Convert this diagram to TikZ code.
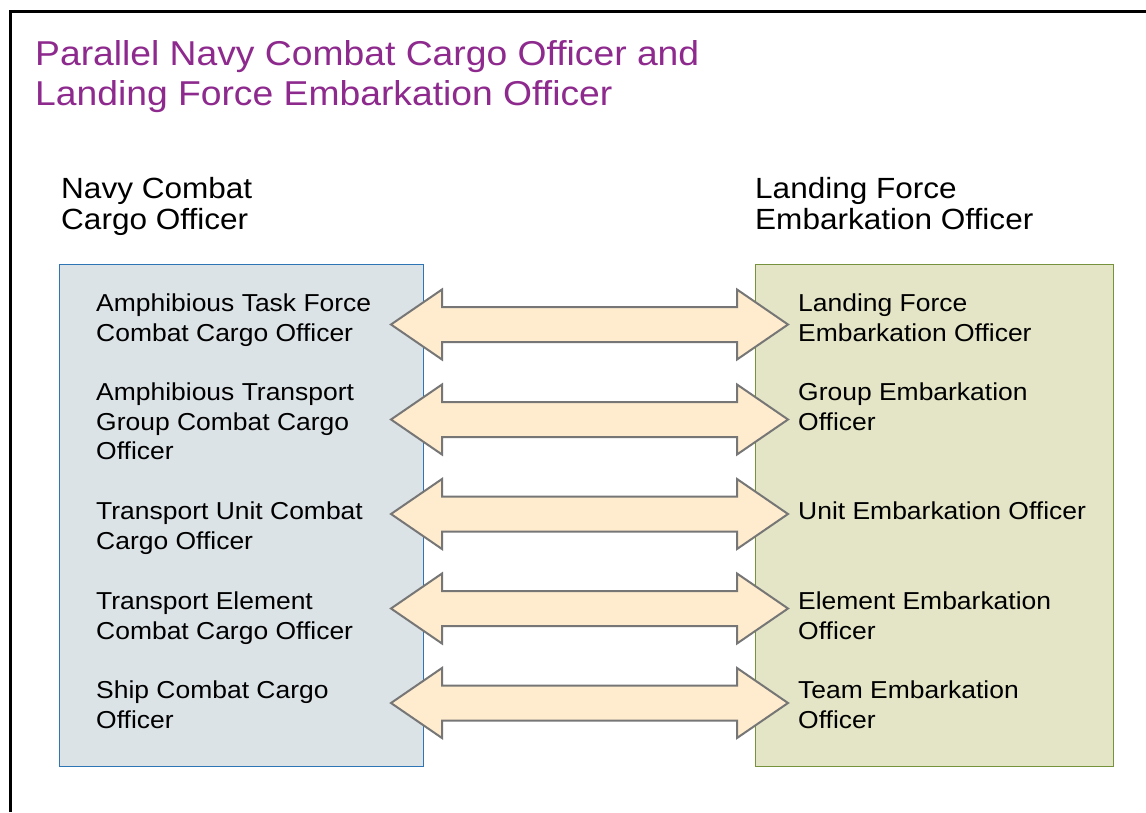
\documentclass[tikz,border=0pt]{standalone}
\usepackage{fontspec}
\setmainfont{Liberation Sans}[FakeStretch=1.08]
\definecolor{titlepurple}{RGB}{142,42,142}
\definecolor{navyfill}{RGB}{220,227,231}
\definecolor{navyline}{RGB}{46,117,182}
\definecolor{lffill}{RGB}{228,228,198}
\definecolor{lfline}{RGB}{118,146,60}
\definecolor{arrowfill}{RGB}{255,236,206}
\definecolor{arrowline}{RGB}{118,118,118}
\begin{document}
\begin{tikzpicture}[x=1pt,y=-1pt,
  titletext/.style={anchor=base west, inner sep=0, align=left, text=titlepurple, font=\fontsize{34.5}{39.5}\selectfont},
  headtext/.style={anchor=base west, inner sep=0, align=left, font=\fontsize{29.2}{31.5}\selectfont},
  itemtext/.style={anchor=base west, inner sep=0, align=left, font=\fontsize{24.5}{29.5}\selectfont},
  navybox/.style={draw=navyline, fill=navyfill, line width=1pt, anchor=north west, inner sep=0, minimum width=364pt, minimum height=502pt},
  lfbox/.style={draw=lfline, fill=lffill, line width=1pt, anchor=north west, inner sep=0, minimum width=358pt, minimum height=502pt},
  bigarrow/.style={draw=arrowline, fill=arrowfill, line width=2pt, line join=miter}
]
\useasboundingbox (0,0) rectangle (1146,812);
\fill[white] (0,0) rectangle (1146,812);
\draw[line width=3pt] (10.5,812) -- (10.5,11.5) -- (1146,11.5);

% anchors are at the baseline of the last line of each block
\node[titletext] (title) at (35,105) {Parallel Navy Combat Cargo Officer and\\Landing Force Embarkation Officer};

\node[headtext] (navyhead) at (61,229.8) {Navy Combat\\Cargo Officer};
\node[headtext] (lfhead) at (755,229.8) {Landing Force\\Embarkation Officer};

\node[navybox] (navy) at (59,264) {};
\node[lfbox] (lf) at (755,264) {};

\foreach \y in {324.5,419.5,514,608.5,703}{
  \draw[bigarrow] (391,\y) -- (442,{\y-35}) -- (442,{\y-17.5}) -- (737,{\y-17.5}) -- (737,{\y-35}) -- (788,\y)
    -- (737,{\y+35}) -- (737,{\y+17.5}) -- (442,{\y+17.5}) -- (442,{\y+35}) -- cycle;
}

\node[itemtext] (n1) at (96,341) {Amphibious Task Force\\Combat Cargo Officer};
\node[itemtext] (n2) at (96,459.7) {Amphibious Transport\\Group Combat Cargo\\Officer};
\node[itemtext] (n3) at (96,549.2) {Transport Unit Combat\\Cargo Officer};
\node[itemtext] (n4) at (96,639.2) {Transport Element\\Combat Cargo Officer};
\node[itemtext] (n5) at (96,728.2) {Ship Combat Cargo\\Officer};

\node[itemtext] (l1) at (798,341) {Landing Force\\Embarkation Officer};
\node[itemtext] (l2) at (798,430.2) {Group Embarkation\\Officer};
\node[itemtext] (l3) at (798,519.7) {Unit Embarkation Officer};
\node[itemtext] (l4) at (798,639.2) {Element Embarkation\\Officer};
\node[itemtext] (l5) at (798,728.2) {Team Embarkation\\Officer};
\end{tikzpicture}
\end{document}
